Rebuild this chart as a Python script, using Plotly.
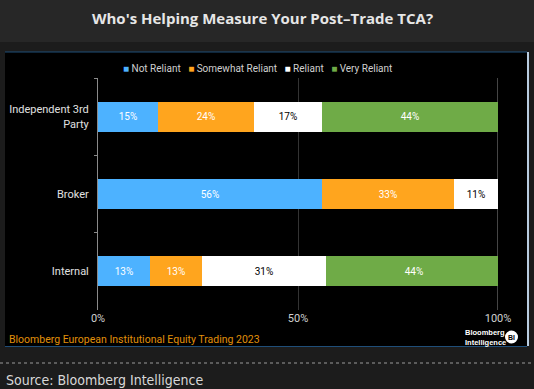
import plotly.graph_objects as go

categories = ["Independent 3rd<br>Party", "Broker", "Internal"]
series_names = ["Not Reliant", "Somewhat Reliant", "Reliant", "Very Reliant"]
not_reliant = [15, 56, 13]
somewhat_reliant = [24, 33, 13]
reliant = [17, 11, 31]
very_reliant = [44, 0, 44]
x_ticks = [0, 50, 100]
x_tick_labels = ["0%", "50%", "100%"]

colors = ["#4DB2FF", "#FFA51E", "#FFFFFF", "#6FAB47"]
text_colors = ["#FFFFFF", "#FFFFFF", "#000000", "#FFFFFF"]
all_series = [not_reliant, somewhat_reliant, reliant, very_reliant]

FONT = "Roboto, Liberation Sans Narrow, sans-serif"

fig = go.Figure()
for name, vals, c, tc in zip(series_names, all_series, colors, text_colors):
    fig.add_trace(go.Bar(
        name=name, y=categories, x=vals, orientation="h",
        marker=dict(color=c, line=dict(width=0)),
        text=[f"{v}%" if v > 0 else "" for v in vals],
        textposition="inside", insidetextanchor="middle",
        textfont=dict(color=tc, size=10, family=FONT),
        width=0.39, hoverinfo="skip", showlegend=False,
    ))

L, R, T, B = 98, 36, 78, 79
PW, PH = 534 - L - R, 389 - T - B
def px(x):
    return (x - L) / PW
def py(y):
    return (389 - B - y) / PH

shapes = [
    dict(type="rect", xref="paper", yref="paper", x0=px(-5), x1=px(540), y0=py(42), y1=py(-5),
         fillcolor="#272727", line=dict(width=0), layer="below"),
    dict(type="rect", xref="paper", yref="paper", x0=px(5), x1=px(527), y0=py(346), y1=py(52),
         fillcolor="#000000", line=dict(width=0), layer="below"),
    dict(type="line", xref="paper", yref="paper", x0=px(5), x1=px(527), y0=py(52), y1=py(52),
         line=dict(color="#1F4E79", width=1), layer="below"),
    dict(type="line", xref="paper", yref="paper", x0=px(5), x1=px(527), y0=py(346.5), y1=py(346.5),
         line=dict(color="#1F4E79", width=1), layer="below"),
    dict(type="line", xref="paper", yref="paper", x0=px(528), x1=px(528), y0=py(346), y1=py(52),
         line=dict(color="#B8CCE0", width=2), layer="below"),
    dict(type="line", xref="paper", yref="paper", x0=px(0), x1=px(534), y0=py(363), y1=py(363),
         line=dict(color="#9A9A9A", width=1, dash="dot"), layer="below"),
    dict(type="line", xref="x", yref="paper", x0=100, x1=100, y0=0, y1=1,
         line=dict(color="#8A8A8A", width=1), layer="below"),
    dict(type="circle", xref="paper", yref="paper", x0=px(505), x1=px(518), y0=py(343.5), y1=py(330.5),
         fillcolor="#FFFFFF", line=dict(width=0)),
]

legend_text = "\u00a0\u00a0\u00a0".join(
    f"<span style='color:{c}'>\u25A0</span>\u00a0{n}" for n, c in zip(series_names, colors)
)

annotations = [
    dict(text="<b>Who's Helping Measure Your Post\u2013Trade TCA?</b>", xref="paper", yref="paper",
         x=px(262), y=py(18), xanchor="center", yanchor="middle", showarrow=False,
         font=dict(family="Open Sans, sans-serif", size=15, color="#E6E6E6")),
    dict(text=legend_text, xref="paper", yref="paper",
         x=px(257), y=py(68), xanchor="center", yanchor="middle", showarrow=False,
         font=dict(family=FONT, size=10, color="#D0D0D0")),
    dict(text="Bloomberg European Institutional Equity Trading 2023", xref="paper", yref="paper",
         x=px(7), y=py(339), xanchor="left", yanchor="middle", showarrow=False,
         font=dict(family=FONT, size=10.5, color="#E0900A")),
    dict(text="<b>Bloomberg<br>Intelligence</b>", xref="paper", yref="paper",
         x=px(463), y=py(337), xanchor="left", yanchor="middle", showarrow=False, align="left",
         font=dict(family="Liberation Sans, Arial, sans-serif", size=7.5, color="#FFFFFF")),
    dict(text="<b>BI</b>", xref="paper", yref="paper",
         x=px(511.5), y=py(337), xanchor="center", yanchor="middle", showarrow=False,
         font=dict(family="Liberation Sans, Arial, sans-serif", size=7, color="#000000")),
    dict(text="Source: Bloomberg Intelligence", xref="paper", yref="paper",
         x=px(4), y=py(380), xanchor="left", yanchor="middle", showarrow=False,
         font=dict(family="DejaVu Sans Condensed, DejaVu Sans, sans-serif", size=14, color="#D8D8D8")),
]

fig.update_layout(
    width=534, height=389,
    margin=dict(l=L, r=R, t=T, b=B, autoexpand=False),
    paper_bgcolor="#1C1C1C", plot_bgcolor="#000000",
    barmode="stack", bargap=0.6,
    showlegend=False,
    xaxis=dict(range=[0, 100], tickvals=x_ticks, ticktext=x_tick_labels,
               showgrid=True, gridcolor="#333333", gridwidth=1, zeroline=False,
               showline=False, ticks="", tickfont=dict(family=FONT, size=11, color="#D0D0D0"),
               fixedrange=True, automargin=False),
    yaxis=dict(categoryorder="array", categoryarray=categories, autorange="reversed",
               showline=True, linecolor="#8A8A8A", linewidth=1,
               ticks="outside", tickson="boundaries", ticklen=3, tickcolor="#8A8A8A",
               showgrid=False, tickfont=dict(family=FONT, size=11, color="#E0E0E0"),
               ticklabelstandoff=6, fixedrange=True, automargin=False),
    shapes=shapes, annotations=annotations,
)

fig.write_html(
    "out.html",
    config={"displayModeBar": False},
    post_script="document.body.style.margin='0';document.body.style.background='#1C1C1C';",
)
